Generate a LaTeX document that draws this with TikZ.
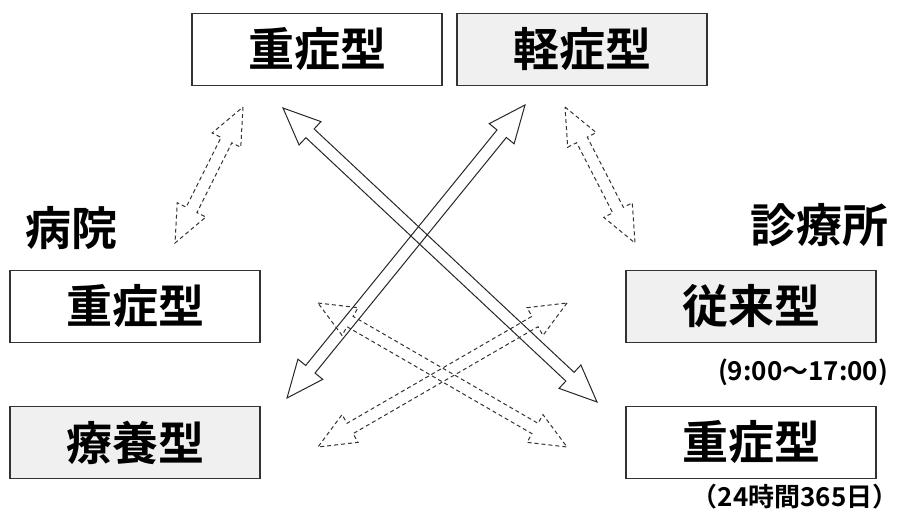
\documentclass[tikz,border=0pt]{standalone}
\usepackage{fontspec}
\setmainfont{Noto Sans CJK JP}[BoldFont={Noto Sans CJK JP Bold}]
\usetikzlibrary{calc}
\def\arrhl{37}
\def\arrhw{16}
\def\arrsw{6}
\newcommand\blockarrow[3]{%
  \path let \p1=($(#3)-(#2)$) in \pgfextra{%
    \pgfmathsetmacro\tmpa{atan2(\y1,\x1)}\global\let\barang\tmpa
    \pgfmathsetmacro\tmpb{veclen(\x1,\y1)}\global\let\barlen\tmpb};
  \pgfmathsetmacro\barb{\barlen-\arrhl}%
  \begin{scope}[shift={(#2)}, rotate=\barang]
    \draw[#1] (0pt,0pt) -- (\arrhl pt,\arrhw pt) -- (\arrhl pt,\arrsw pt)
      -- (\barb pt,\arrsw pt) -- (\barb pt,\arrhw pt) -- (\barlen pt,0pt)
      -- (\barb pt,-\arrhw pt) -- (\barb pt,-\arrsw pt)
      -- (\arrhl pt,-\arrsw pt) -- (\arrhl pt,-\arrhw pt) -- cycle;
  \end{scope}}
\tikzset{
  typebox/.style={draw=black!80, line width=1.8pt, minimum width=250pt,
    minimum height=72pt, inner sep=0pt, font=\fontsize{46}{50}\selectfont\bfseries},
  whitebox/.style={typebox, fill=white},
  graybox/.style={typebox, fill=black!6},
  grouplabel/.style={font=\fontsize{46}{50}\selectfont\bfseries, inner sep=0pt},
  timelabel/.style={font=\fontsize{26}{28}\selectfont\bfseries, inner sep=0pt},
  solidarr/.style={draw=black!85, line width=1pt, line join=miter},
  dasharr/.style={draw=black!80, line width=1pt, dash pattern=on 4pt off 3pt},
}
\begin{document}
\begin{tikzpicture}[x=1pt, y=-1pt]
\useasboundingbox (0,0) rectangle (899,520);
% boxes
\node[whitebox] (tl) at (317,49.5) {重症型};
\node[graybox]  (tr) at (582,49.5) {軽症型};
\node[whitebox] (l1) at (135,306.5) {重症型};
\node[graybox]  (l2) at (135,442.5) {療養型};
\node[graybox]  (r1) at (751,306.5) {従来型};
\node[whitebox] (r2) at (751,442.5) {重症型};
% labels
\node[grouplabel] (hosp) at (71,228) {病院};
\node[grouplabel] (clin) at (819,225) {診療所};
\node[timelabel] (t1) at (803,372) {(9:00～17:00)};
\node[timelabel] (t2) at (795,497) {（24時間365日）};
% arrow end points
\coordinate (a1s) at (243,107); \coordinate (a1e) at (175,243);
\coordinate (a2s) at (283,108); \coordinate (a2e) at (597,402);
\coordinate (a3s) at (525,105); \coordinate (a3e) at (287,398);
\coordinate (a4s) at (565,107); \coordinate (a4e) at (635,243);
\coordinate (a5s) at (318,303); \coordinate (a5e) at (567,447);
\coordinate (a6s) at (567,303); \coordinate (a6e) at (318,447);
% arrows
\blockarrow{dasharr}{a1s}{a1e}
\blockarrow{solidarr}{a2s}{a2e}
\blockarrow{solidarr}{a3s}{a3e}
\blockarrow{dasharr}{a4s}{a4e}
\blockarrow{dasharr}{a5s}{a5e}
\blockarrow{dasharr}{a6s}{a6e}
\end{tikzpicture}
\end{document}
